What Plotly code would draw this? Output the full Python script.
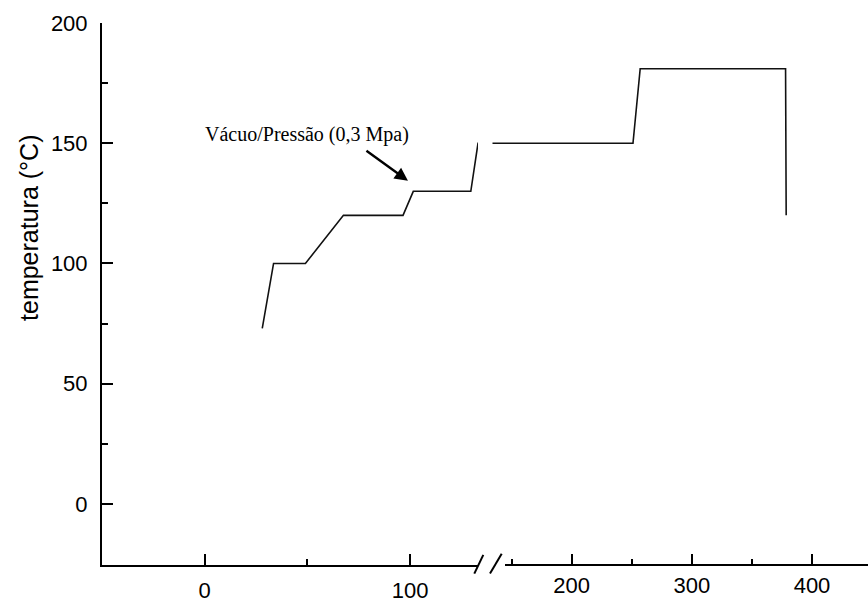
import plotly.graph_objects as go

# cure-cycle data (time, temperature)
time_min = [28, 33.5, 49, 67.5, 96.5, 101.5, 129.5, 133, 251, 257, 378, 378.5]
temp_c = [73, 100, 100, 120, 120, 130, 130, 150, 150, 181, 181, 120]

y_ticks = [0, 50, 100, 150, 200]
left_ticks = [0, 100]
right_ticks = [200, 300, 400]

annot_text = "Vácuo/Pressão (0,3 Mpa)"
annot_point = (98.9, 134.4)
y_title = "temperatura (°C)"

W, H = 868, 603
ML, MR, MT, MB = 102, 0, 23, 30
PW, PH = W - ML - MR, H - MT - MB


def px_x(p):
    return (p - ML) / PW


def px_y(p):
    return (H - MB - p) / PH


tickfont = dict(family="Liberation Sans Narrow, Arial Narrow, Liberation Sans, sans-serif",
                size=22, color="black")

fig = go.Figure()
line = dict(color="#111111", width=1.6)
fig.add_trace(go.Scatter(x=time_min, y=temp_c, mode="lines", line=line,
                         xaxis="x", yaxis="y", showlegend=False, hoverinfo="skip"))
fig.add_trace(go.Scatter(x=time_min, y=temp_c, mode="lines", line=line,
                         xaxis="x2", yaxis="y", showlegend=False, hoverinfo="skip"))

common_x = dict(showgrid=False, zeroline=False, linecolor="black",
                linewidth=2, ticks="inside", ticklen=11, tickwidth=1.5,
                tickcolor="black", tickfont=tickfont, ticklabelstandoff=5,
                anchor="y")

# right segment scale: 1.2015 px per minute, 200 at px 571.7
right_start_px = 492.5
right_range_start = 200 - (571.7 - right_start_px) / 1.2015

fig.update_layout(
    width=W, height=H,
    margin=dict(l=ML, r=MR, t=MT, b=MB),
    paper_bgcolor="white", plot_bgcolor="white",
    xaxis=dict(domain=[0, px_x(478)], range=[-50, 133], showline=True,
               tickmode="array", tickvals=left_ticks, ticktext=[str(v) for v in left_ticks],
               minor=dict(ticks="inside", ticklen=6, tickwidth=1.5, tickcolor="black",
                          tickmode="array", tickvals=[50]),
               **common_x),
    xaxis2=dict(domain=[px_x(right_start_px), 1], range=[right_range_start, 446.6],
                showline=False,
                tickmode="array", tickvals=right_ticks, ticktext=[str(v) for v in right_ticks],
                minor=dict(ticks="inside", ticklen=6, tickwidth=1.5, tickcolor="black",
                           tickmode="array", tickvals=[150, 250, 350]),
                **common_x),
    yaxis=dict(range=[-25.4, 200], showgrid=False, zeroline=False, showline=True,
               linecolor="black", linewidth=2, ticks="inside", ticklen=11,
               tickwidth=1.5, tickcolor="black",
               tickmode="array", tickvals=y_ticks, ticktext=[str(v) for v in y_ticks],
               minor=dict(ticks="inside", ticklen=6, tickwidth=1.5, tickcolor="black",
                          tickmode="array", tickvals=[25, 75, 125, 175]),
               tickfont=tickfont, ticklabelstandoff=8, anchor="x"),
)

# right x-axis line (starts after the break)
fig.add_shape(type="line", xref="paper", yref="paper", x0=px_x(505), x1=1, y0=0, y1=0,
              line=dict(color="black", width=2))

# axis break marks
for (x0, y0, x1, y1) in [(474.3, 581.7, 483.3, 562.7), (490, 581.7, 501.7, 561.7)]:
    fig.add_shape(type="line", xref="paper", yref="paper",
                  x0=px_x(x0), y0=px_y(y0), x1=px_x(x1), y1=px_y(y1),
                  line=dict(color="black", width=2))

# y title
fig.add_annotation(text=y_title, xref="paper", yref="paper", x=px_x(29), y=px_y(231),
                   showarrow=False, textangle=-90, xanchor="center", yanchor="middle",
                   font=dict(family="Liberation Sans, Arial, sans-serif", size=25, color="black"))

# annotation text and arrow
fig.add_annotation(text=annot_text, xref="paper", yref="paper", x=px_x(307), y=px_y(136),
                   showarrow=False, xanchor="center", yanchor="middle",
                   font=dict(family="Liberation Serif, Times New Roman, serif", size=20, color="black"))
fig.add_annotation(text="", x=annot_point[0], y=annot_point[1], xref="x", yref="y",
                   showarrow=True, arrowhead=2, arrowsize=1.1, arrowwidth=2.4,
                   arrowcolor="black", ax=-43, ay=-31)

fig.write_html("out.html")
